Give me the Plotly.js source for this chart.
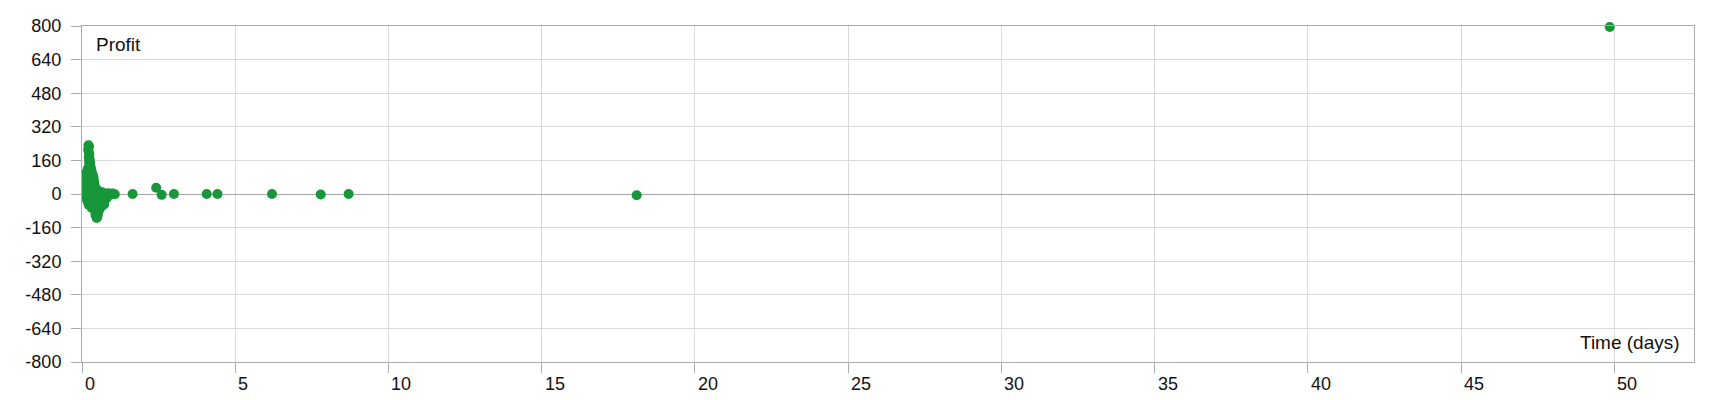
<!DOCTYPE html>
<html>
<head>
<meta charset="utf-8">
<script src="https://cdn.plot.ly/plotly-3.0.1.min.js"></script>
<style>html,body{margin:0;padding:0;background:#fff}#chart{width:1720px;height:400px}</style>
</head>
<body>
<div id="chart"></div>
<script>
// Time (days) of each trade
const timeDays = [
  0.21,0.23,0.20,0.22,0.24,0.22,0.25,0.23,0.27,0.24,0.28,0.20,0.30,0.17,0.26,
  0.15,0.33,0.19,0.36,0.16,0.27,0.38,0.15,0.22,0.32,0.40,0.16,0.28,0.20,0.36,0.43,0.15,0.25,0.32,0.48,0.17,0.40,0.55,0.24,0.62,0.15,0.30,0.70,0.78,0.86,0.93,1.00,1.07,0.50,0.42,
  0.30,0.35,0.34,0.37,0.45,0.52,0.60,0.66,
  0.15,0.20,0.35,0.60,0.72,0.15,0.28,0.50,0.68,0.18,0.40,0.72,0.25,0.55,0.66,0.35,0.45,0.60,0.40,0.55,0.47,0.52,0.44,0.50,0.48,
  0.22,0.30,0.62,0.69,0.58,0.33,0.76,0.80,0.72,0.64,
  1.65,2.42,2.60,3.00,4.07,4.42,6.20,7.79,8.70,18.10,49.85
];
// Profit of each trade
const profit = [
  232,226,212,200,190,176,165,155,148,138,130,122,118,110,108,
  102,100,95,88,85,82,75,70,66,62,55,52,48,42,40,33,30,28,22,20,15,12,10,8,6,2,0,3,-2,4,-3,2,-1,-2,5,
  90,70,50,30,25,15,-5,8,
  -8,-15,-10,-12,-18,-22,-25,-28,-30,-35,-38,-40,-45,-48,-55,-55,-62,-65,-75,-78,-88,-95,-100,-108,-114,
  -52,-60,-45,-22,-35,-68,-12,-20,-50,-42,
  0,30,-4,0,0,0,0,-2,0,-6,795
];
const xTickVals = [0,5,10,15,20,25,30,35,40,45,50];
const xTickText = ['0','5','10','15','20','25','30','35','40','45','50'];
const yTickVals = [-800,-640,-480,-320,-160,0,160,320,480,640,800];
const yTickText = ['-800','-640','-480','-320','-160','0','160','320','480','640','800'];

const font = {family: '"Liberation Sans", Arial, sans-serif', size: 18, color: '#111111'};
const annFont = {family: '"Liberation Sans", Arial, sans-serif', size: 19, color: '#111111'};
const trace = {
  type: 'scatter', mode: 'markers', x: timeDays, y: profit,
  marker: {color: '#18963a', size: 10, line: {width: 0}},
  cliponaxis: false, hoverinfo: 'x+y'
};
const axisCommon = {
  showline: true, linecolor: '#ababab', linewidth: 1, mirror: true,
  showgrid: true, gridcolor: '#d9d9d9', gridwidth: 1,
  ticks: 'outside', ticklen: 10, tickcolor: '#ababab', tickwidth: 1,
  tickfont: font, fixedrange: true
};
// x tick labels are left-aligned just right of each tick, as in the reference
const xLabelAnns = xTickVals.map((v, i) => ({
  text: xTickText[i], xref: 'x', yref: 'paper', x: v, y: 0,
  xanchor: 'left', yanchor: 'top', xshift: 1, yshift: -10,
  showarrow: false, font: font
}));
const layout = {
  width: 1720, height: 400,
  margin: {l: 82, r: 26, t: 26, b: 38, pad: 0},
  paper_bgcolor: '#ffffff', plot_bgcolor: '#ffffff',
  font: font, showlegend: false,
  xaxis: Object.assign({}, axisCommon, {
    range: [0, 52.6], tickmode: 'array', tickvals: xTickVals, ticktext: xTickText,
    zeroline: false, showticklabels: false
  }),
  yaxis: Object.assign({}, axisCommon, {
    range: [-800, 800], tickmode: 'array', tickvals: yTickVals, ticktext: yTickText,
    zeroline: true, zerolinecolor: '#a6a6a6', zerolinewidth: 1, ticklabelstandoff: 6
  }),
  annotations: [
    {text: 'Profit', xref: 'paper', yref: 'paper', x: 0, y: 1, xanchor: 'left', yanchor: 'top',
     xshift: 12, yshift: -6, showarrow: false, font: annFont},
    {text: 'Time (days)', xref: 'paper', yref: 'paper', x: 1, y: 0, xanchor: 'right', yanchor: 'bottom',
     xshift: -12, yshift: 7, showarrow: false, font: annFont}
  ].concat(xLabelAnns)
};
Plotly.newPlot('chart', [trace], layout, {displayModeBar: false, staticPlot: true});
</script>
</body>
</html>
